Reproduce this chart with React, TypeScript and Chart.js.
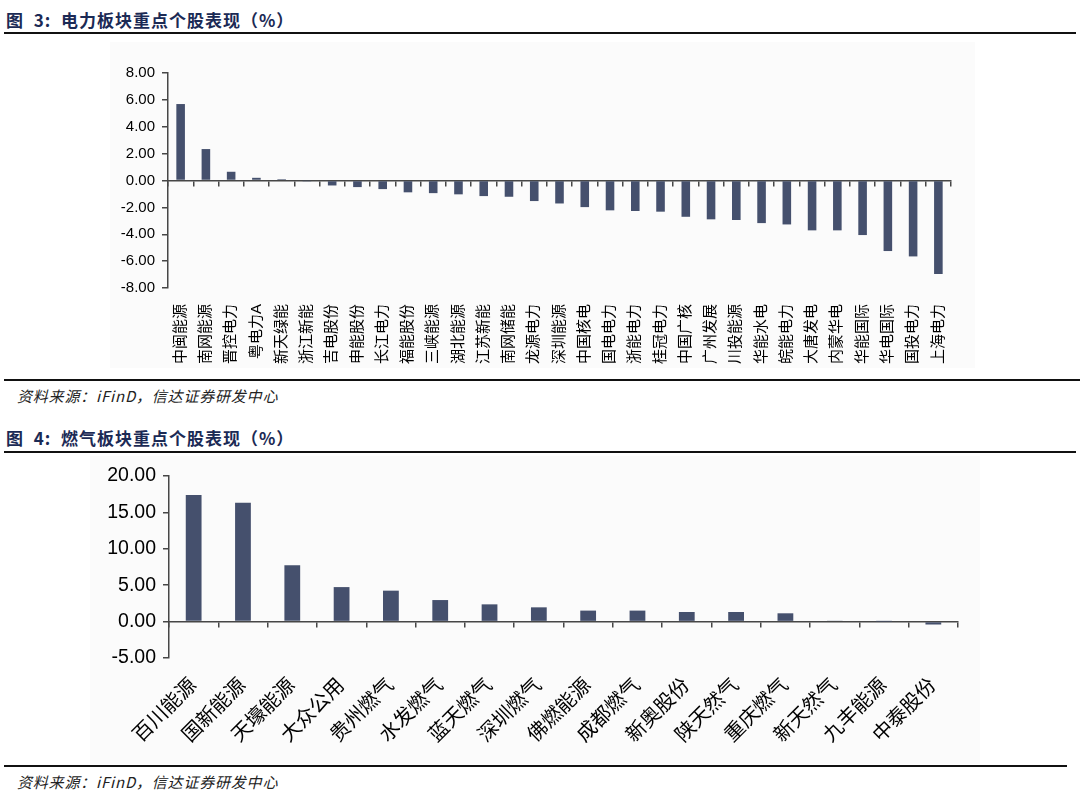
import React, { useEffect, useRef } from "react";
import { Chart, registerables } from "chart.js";

Chart.register(...registerables);

const powerNames = ["中闽能源","南网能源","晋控电力","粤电力A","新天绿能","浙江新能","吉电股份","申能股份","长江电力","福能股份","三峡能源","湖北能源","江苏新能","南网储能","龙源电力","深圳能源","中国核电","国电电力","浙能电力","桂冠电力","中国广核","广州发展","川投能源","华能水电","皖能电力","大唐发电","内蒙华电","华能国际","华电国际","国投电力","上海电力"];
const powerValues = [5.69, 2.34, 0.65, 0.2, 0.1, -0.02, -0.37, -0.49, -0.64, -0.88, -0.94, -1.03, -1.16, -1.21, -1.53, -1.71, -1.98, -2.22, -2.27, -2.32, -2.7, -2.89, -2.94, -3.17, -3.27, -3.71, -3.71, -4.06, -5.25, -5.65, -6.96];

const gasNames = ["百川能源","国新能源","天壕能源","大众公用","贵州燃气","水发燃气","蓝天燃气","深圳燃气","佛燃能源","成都燃气","新奥股份","陕天然气","重庆燃气","新天然气","九丰能源","中泰股份"];
const gasValues = [17.4, 16.34, 7.75, 4.74, 4.25, 2.96, 2.37, 1.96, 1.51, 1.51, 1.32, 1.32, 1.14, 0.08, 0.01, -0.4];

const BAR = "#45506d";
const AXIS = "#474747";
const FONT = "'Liberation Sans', Arial, 'Noto Sans CJK SC', sans-serif";

type Cfg = {
  labels: string[];
  values: number[];
  min: number;
  max: number;
  step: number;
  yWidth: number;
  xHeight: number;
  pad: { top: number; right: number; left: number; bottom: number };
  tickFont: number;
  labelFont: number;
  rotation: number;
  labelPad: number;
  barPct: number;
};

function BarChart({ cfg, style }: { cfg: Cfg; style: React.CSSProperties }) {
  const ref = useRef<HTMLCanvasElement>(null);
  useEffect(() => {
    if (!ref.current) return;
    const chart = new Chart(ref.current, {
      type: "bar",
      data: {
        labels: cfg.labels,
        datasets: [
          {
            data: cfg.values,
            backgroundColor: BAR,
            borderWidth: 0,
            barPercentage: cfg.barPct,
            categoryPercentage: 1,
            xAxisID: "x",
          },
        ],
      },
      options: {
        animation: false,
        responsive: false,
        maintainAspectRatio: false,
        layout: { padding: cfg.pad },
        plugins: { legend: { display: false }, tooltip: { enabled: false } },
        scales: {
          x: {
            type: "category",
            position: { y: 0 } as any,
            offset: true,
            grid: {
              display: true,
              drawOnChartArea: false,
              drawTicks: true,
              tickLength: 5,
              color: AXIS,
              lineWidth: 1.5,
              offset: true,
            },
            border: { display: true, color: AXIS, width: 1.5 },
            ticks: { display: false },
          },
          x2: {
            type: "category",
            position: "bottom",
            offset: true,
            grid: { display: false },
            border: { display: false },
            afterFit: (s: any) => {
              s.height = cfg.xHeight;
            },
            ticks: {
              autoSkip: false,
              maxRotation: cfg.rotation,
              minRotation: cfg.rotation,
              padding: cfg.labelPad,
              color: "#000",
              font: { family: FONT, size: cfg.labelFont },
            },
          },
          y: {
            min: cfg.min,
            max: cfg.max,
            afterFit: (s: any) => {
              s.width = cfg.yWidth;
            },
            grid: {
              display: true,
              drawOnChartArea: false,
              drawTicks: true,
              tickLength: 6,
              color: AXIS,
              lineWidth: 1.5,
            },
            border: { display: true, color: AXIS, width: 1.5 },
            ticks: {
              stepSize: cfg.step,
              padding: 7,
              color: "#000",
              font: { family: FONT, size: cfg.tickFont },
              callback: (v: any) => Number(v).toFixed(2),
            },
          },
        },
      },
    });
    return () => chart.destroy();
  }, []);
  const w = style.width as number;
  const h = style.height as number;
  return (
    <div style={{ position: "absolute", ...style }}>
      <canvas ref={ref} width={w} height={h} style={{ width: w, height: h, display: "block" }} />
    </div>
  );
}

const titleStyle: React.CSSProperties = {
  position: "absolute",
  left: 6,
  fontFamily: "'Noto Sans CJK SC', sans-serif",
  fontWeight: 700,
  fontSize: 17,
  letterSpacing: 1,
  color: "#1b2a55",
  whiteSpace: "nowrap",
  lineHeight: "20px",
};

const srcStyle: React.CSSProperties = {
  position: "absolute",
  left: 17,
  fontFamily: "'Noto Sans CJK SC', serif",
  fontStyle: "italic",
  fontSize: 15,
  letterSpacing: 0.8,
  color: "#222",
  whiteSpace: "nowrap",
  lineHeight: "18px",
};

const line = (top: number, left: number, width: number): React.CSSProperties => ({
  position: "absolute",
  top,
  left,
  width,
  height: 2,
  background: "#111",
});

export default function App() {
  const powerCfg: Cfg = {
    labels: powerNames,
    values: powerValues,
    min: -8,
    max: 8,
    step: 2,
    yWidth: 68,
    xHeight: 84,
    pad: { top: 31, right: 29, left: 0, bottom: 0 },
    tickFont: 15,
    labelFont: 15,
    rotation: 90,
    labelPad: 8,
    barPct: 0.34,
  };
  const gasCfg: Cfg = {
    labels: gasNames,
    values: gasValues,
    min: -5,
    max: 20,
    step: 5,
    yWidth: 79,
    xHeight: 107,
    pad: { top: 21, right: 22, left: 0, bottom: 0 },
    tickFont: 19.5,
    labelFont: 20,
    rotation: 45,
    labelPad: 8,
    barPct: 0.32,
  };
  return (
    <div style={{ position: "fixed", left: 0, top: 0, width: 1080, height: 795, background: "#fff", overflow: "hidden" }}>
      <div style={{ ...titleStyle, top: 10 }}>图&nbsp;&nbsp;3:&nbsp;&nbsp;电力板块重点个股表现（%）</div>
      <div style={line(32, 4, 1072)} />
      <div style={{ position: "absolute", left: 110, top: 42, width: 865, height: 326, background: "#fbfbfb" }} />
      <BarChart cfg={powerCfg} style={{ left: 100, top: 42, width: 880, height: 330 }} />
      <div style={line(379, 4, 1076)} />
      <div style={{ ...srcStyle, top: 387 }}>资料来源：iFinD，信达证券研发中心</div>
      <div style={{ ...titleStyle, top: 428 }}>图&nbsp;&nbsp;4:&nbsp;&nbsp;燃气板块重点个股表现（%）</div>
      <div style={line(451, 4, 1072)} />
      <div style={{ position: "absolute", left: 90, top: 456, width: 890, height: 308, background: "#fbfbfb" }} />
      <BarChart cfg={gasCfg} style={{ left: 90, top: 455, width: 890, height: 310 }} />
      <div style={line(765, 4, 1063)} />
      <div style={{ ...srcStyle, top: 773 }}>资料来源：iFinD，信达证券研发中心</div>
    </div>
  );
}
